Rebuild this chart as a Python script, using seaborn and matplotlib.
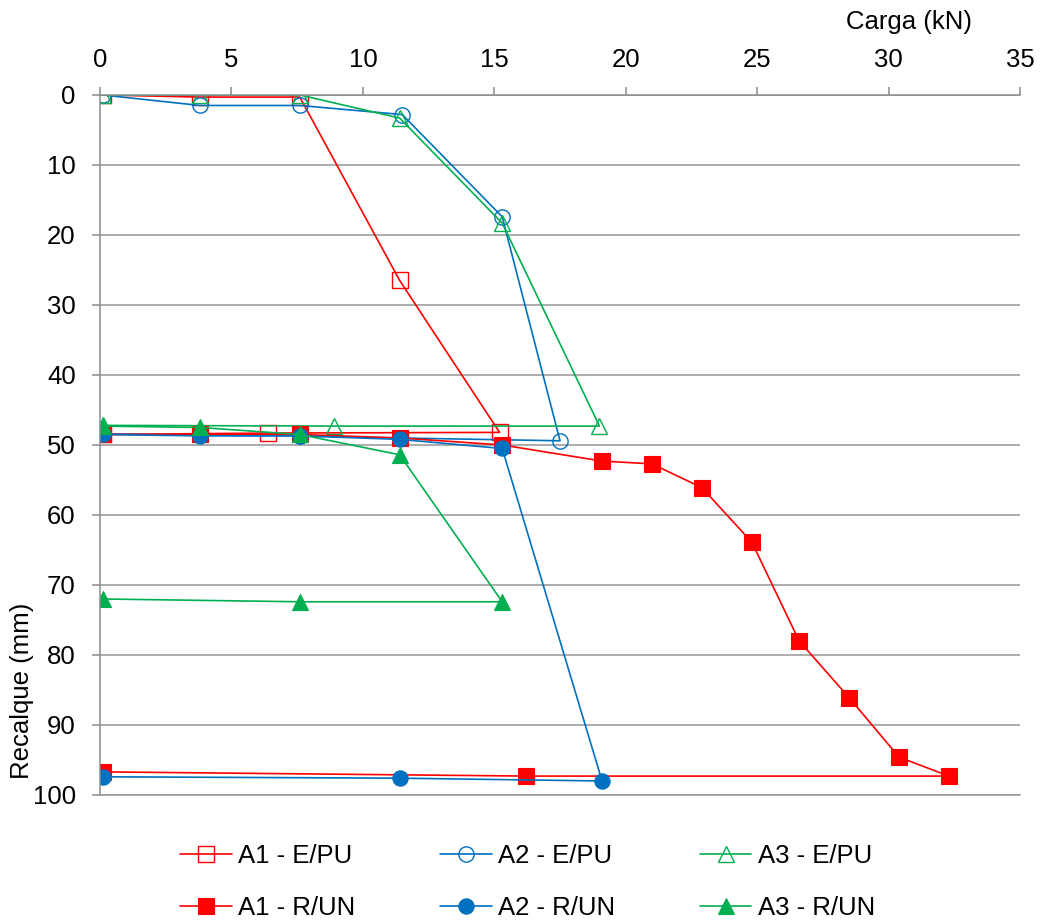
import numpy as np
import pandas as pd
import seaborn as sns
import matplotlib
matplotlib.use("Agg")
import matplotlib.pyplot as plt

# Carga (kN) x Recalque (mm) for each test
a1_epu_x = [0.1, 3.8, 7.6, 11.4, 15.2, 6.4, 0.1]
a1_epu_y = [0.0, 0.3, 0.3, 26.5, 48.2, 48.3, 48.5]

a2_epu_x = [0.1, 3.8, 7.6, 11.5, 15.3, 17.5, 11.4, 7.6, 3.8, 0.1]
a2_epu_y = [0.0, 1.5, 1.5, 2.8, 17.4, 49.4, 49.0, 48.7, 48.6, 48.4]

a3_epu_x = [0.1, 3.8, 7.6, 11.4, 15.3, 19.0, 8.9, 0.1]
a3_epu_y = [0.0, 0.0, 0.0, 3.3, 18.3, 47.3, 47.3, 47.2]

a1_run_x = [0.1, 3.8, 7.6, 11.4, 15.3, 19.1, 21.0, 22.9, 24.8, 26.6, 28.5, 30.4, 32.3, 16.2, 0.1]
a1_run_y = [48.5, 48.5, 48.5, 49.0, 50.0, 52.3, 52.7, 56.1, 63.9, 78.0, 86.1, 94.6, 97.3, 97.3, 96.7]

a2_run_x = [0.1, 3.8, 7.6, 11.4, 15.3, 19.1, 11.4, 0.1]
a2_run_y = [48.5, 48.7, 48.7, 49.2, 50.5, 98.0, 97.6, 97.4]

a3_run_x = [0.1, 3.8, 7.6, 11.4, 15.3, 7.6, 0.1]
a3_run_y = [47.3, 47.5, 48.5, 51.4, 72.4, 72.4, 72.0]

labels = ["A1 - E/PU", "A2 - E/PU", "A3 - E/PU", "A1 - R/UN", "A2 - R/UN", "A3 - R/UN"]
xs = [a1_epu_x, a2_epu_x, a3_epu_x, a1_run_x, a2_run_x, a3_run_x]
ys = [a1_epu_y, a2_epu_y, a3_epu_y, a1_run_y, a2_run_y, a3_run_y]

red = "#FF0000"
blue = "#0070C0"
green = "#00B050"
colors = [red, blue, green, red, blue, green]
markers = ["s", "o", "^", "s", "o", "^"]
filled = [False, False, False, True, True, True]

sns.set_style("white")
plt.rcParams["font.family"] = ["Liberation Sans", "DejaVu Sans"]
plt.rcParams["text.color"] = "black"
plt.rcParams["axes.labelcolor"] = "black"
plt.rcParams["xtick.labelcolor"] = "black"
plt.rcParams["ytick.labelcolor"] = "black"
fs = 18.5

fig = plt.figure(figsize=(10.41, 9.23), dpi=100)
ax = fig.add_axes([0.0961, 0.1387, 0.8837, 0.7584])

for lab, x, y, c, m, f in zip(labels, xs, ys, colors, markers, filled):
    df = pd.DataFrame({"carga": x, "recalque": y})
    if f:
        kw = dict(markerfacecolor=c, markeredgecolor=c, markersize=11, markeredgewidth=0.8)
    else:
        kw = dict(markerfacecolor="none", markeredgecolor=c, markersize=11, markeredgewidth=1.0)
    sns.lineplot(data=df, x="carga", y="recalque", sort=False, estimator=None,
                 color=c, marker=m, linewidth=1.2, ax=ax, label=lab, **kw)

ax.set_xlim(0, 35)
ax.set_ylim(100, 0)
ax.set_xticks(np.arange(0, 36, 5))
ax.set_yticks(np.arange(0, 101, 10))
ax.xaxis.tick_top()
ax.xaxis.set_label_position("top")

ax.grid(axis="y", color="#969696", linewidth=1.1)
ax.grid(axis="x", visible=False)
ax.set_axisbelow(True)

ax.spines["right"].set_visible(False)
for s in ["left", "top"]:
    ax.spines[s].set_color("#8C8C8C")
    ax.spines[s].set_linewidth(1.1)
ax.spines["bottom"].set_color("#969696")
ax.spines["bottom"].set_linewidth(1.1)

ax.tick_params(axis="x", which="both", top=True, bottom=False, direction="out",
               length=6, width=1.1, color="#8C8C8C", pad=10.5, labelsize=fs)
ax.tick_params(axis="y", which="both", left=True, direction="out",
               length=6, width=1.1, color="#8C8C8C", pad=11.5, labelsize=fs)

ax.set_xlabel("Carga (kN)", fontsize=fs)
ax.xaxis.set_label_coords(0.879, 1.104)
ax.xaxis.label.set_va("center")
ax.set_ylabel("Recalque (mm)", fontsize=fs)
ax.yaxis.set_label_coords(-0.085, 0.149)
ax.yaxis.label.set_va("center")

h, l = ax.get_legend_handles_labels()
ax.get_legend().remove()
order = [0, 3, 1, 4, 2, 5]
fig.legend([h[i] for i in order], [l[i] for i in order], ncol=3, loc="center",
           bbox_to_anchor=(0.507, 0.0445), frameon=False, fontsize=fs,
           handlelength=2.0, handletextpad=0.25, columnspacing=3.3,
           labelspacing=1.1, borderpad=0)

fig.savefig("out.png", dpi=100)
